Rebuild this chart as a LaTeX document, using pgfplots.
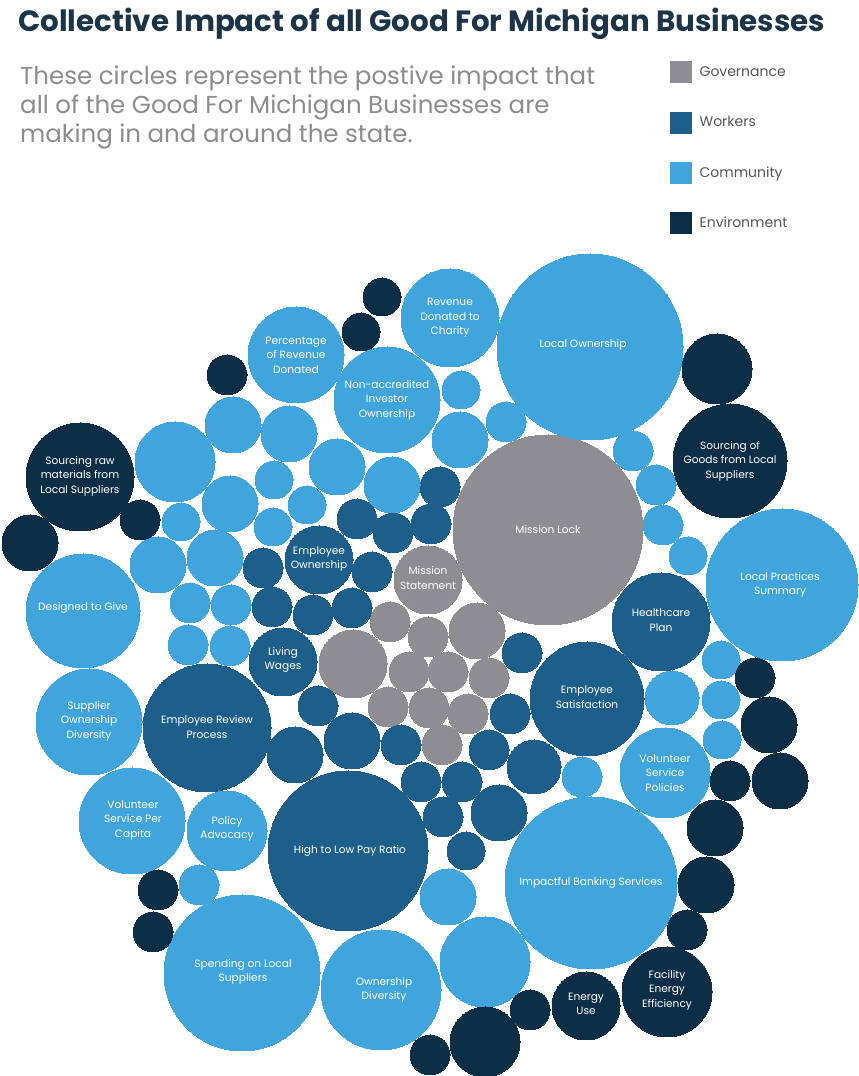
\documentclass[border=0pt]{standalone}
\usepackage{pgfplots}
\pgfplotsset{compat=1.18}
\usepackage{pgfplotstable}
\usepackage{fontspec}
\setmainfont{Poppins}

\definecolor{govc}{RGB}{142,142,146}
\definecolor{workc}{RGB}{29,94,138}
\definecolor{commc}{RGB}{64,165,221}
\definecolor{envc}{RGB}{12,46,70}
\definecolor{titlec}{RGB}{28,52,72}
\definecolor{subc}{RGB}{140,140,140}
\definecolor{legc}{RGB}{85,85,85}

% bubble centres and radii, in pixels of the 859x1076 picture (y from top)
\pgfplotstableread{
x y r
548 530 95
428 580 34
353 664 34
477 631 28
390 622 20
428 637 20
409 672 20
448 672 20
489 678 20
388 707 20
429 708 20
468 714 20
442 745 20
}\govtab

\pgfplotstableread{
x y r
348 851 80
207 728 64
661 622 49
587 699 57
319 560 34
283 662 34
440 487 20
357 519 20
393 533 20
431 524 20
263 568 20
372 572 20
272 607 20
313 615 20
352 608 20
318 706 20
295 755 28
352 741 28
401 745 20
421 782 20
462 782 20
489 750 20
510 714 20
522 653 20
534 767 27
499 813 28
443 817 20
466 851 19
}\worktab

\pgfplotstableread{
x y r
590 347 93
782 585 76
591 883 86
242 973 78
381 990 60
83 611 57
89 722 53
132 821 53
227 831 40
296 355 48
387 400 53
450 318 49
665 773 45
175 462 40
233 425 28
289 434 28
337 467 28
392 485 28
230 504 28
274 480 19
307 505 19
181 522 19
273 527 19
158 565 28
215 558 28
190 603 20
231 605 20
188 645 20
230 646 20
461 390 19
506 422 20
460 440 28
633 451 20
656 485 20
663 525 20
688 556 19
721 660 19
672 698 27
721 700 19
722 740 19
582 777 20
448 897 28
485 962 45
199 885 20
}\commtab

\pgfplotstableread{
x y r
80 477 54
730 461 57
717 369 35
667 992 45
586 1006 34
382 297 19
361 332 19
227 375 20
140 520 20
30 543 28
755 678 20
769 725 28
780 781 28
730 781 20
715 828 28
706 885 28
687 930 20
530 1010 20
485 1042 35
430 1055 20
158 890 20
153 932 20
}\envtab

\pgfplotsset{
  bubble/.style={scatter, only marks, mark=*, color=#1,
    mark options={draw=#1, fill=#1, line width=0pt},
    scatter/use mapped color={draw=#1, fill=#1},
    visualization depends on={\thisrow{r} \as \rad},
    scatter/@pre marker code/.append style={/tikz/mark size=\rad},
    legend image code/.code={\fill[#1] (0pt,-10.5pt) rectangle (21pt,10.5pt); \path (27pt,0pt);}},
}

\begin{document}
\begin{tikzpicture}[lbl/.style={text=white, align=center, inner sep=0pt,
    font=\fontsize{10.6}{14.5}\selectfont},
  sub/.style={anchor=base west, inner sep=0pt, text=subc,
    font=\fontsize{24.5}{29}\selectfont}]
\fill[white] (0,0) rectangle (859pt,1076pt);
\begin{axis}[
  set layers=standard,
  x=1pt, y=1pt, y dir=reverse,
  xmin=0, xmax=859, ymin=0, ymax=1076,
  hide axis, clip=false,
  legend style={at={(axis cs:670,61)}, anchor=north west, draw=none, fill=none,
    font=\fontsize{14}{16}\selectfont, text=legc, row sep=29pt, inner sep=0pt},
  legend cell align=left,
]
\addplot[bubble=govc] table[x=x, y=y] {\govtab};
\addlegendentry{Governance}
\addplot[bubble=workc] table[x=x, y=y] {\worktab};
\addlegendentry{Workers}
\addplot[bubble=commc] table[x=x, y=y] {\commtab};
\addlegendentry{Community}
\addplot[bubble=envc] table[x=x, y=y] {\envtab};
\addlegendentry{Environment}

\begin{pgfonlayer}{axis foreground}
\node[anchor=base west, inner sep=0pt, text=titlec,
  font=\bfseries\fontsize{29.3}{33}\selectfont] at (axis cs:18,32)
  {Collective Impact of all Good For Michigan Businesses};
\node[sub] at (axis cs:20,85) {These circles represent the postive impact that};
\node[sub] at (axis cs:20,114) {all of the Good For Michigan Businesses are};
\node[sub] at (axis cs:20,143) {making in and around the state.};

\node[lbl] at (axis cs:583,345) {Local Ownership};
\node[lbl] at (axis cs:548,530) {Mission Lock};
\node[lbl] at (axis cs:780,585) {Local Practices\\Summary};
\node[lbl] at (axis cs:591,883) {Impactful Banking Services};
\node[lbl] at (axis cs:350,851) {High to Low Pay Ratio};
\node[lbl] at (axis cs:243,972) {Spending on Local\\Suppliers};
\node[lbl] at (axis cs:384,990) {Ownership\\Diversity};
\node[lbl] at (axis cs:207,727) {Employee Review\\Process};
\node[lbl] at (axis cs:83,608) {Designed to Give};
\node[lbl] at (axis cs:89,721) {Supplier\\Ownership\\Diversity};
\node[lbl] at (axis cs:133,820) {Volunteer\\Service Per\\Capita};
\node[lbl] at (axis cs:227,829) {Policy\\Advocacy};
\node[lbl] at (axis cs:80,476) {Sourcing raw\\materials from\\Local Suppliers};
\node[lbl] at (axis cs:296,355) {Percentage\\of Revenue\\Donated};
\node[lbl] at (axis cs:387,400) {Non-accredited\\Investor\\Ownership};
\node[lbl] at (axis cs:450,318) {Revenue\\Donated to\\Charity};
\node[lbl] at (axis cs:730,461) {Sourcing of\\Goods from Local\\Suppliers};
\node[lbl] at (axis cs:661,620) {Healthcare\\Plan};
\node[lbl] at (axis cs:587,697) {Employee\\Satisfaction};
\node[lbl] at (axis cs:665,773) {Volunteer\\Service\\Policies};
\node[lbl] at (axis cs:667,990) {Facility\\Energy\\Efficiency};
\node[lbl] at (axis cs:586,1004) {Energy\\Use};
\node[lbl] at (axis cs:319,559) {Employee\\Ownership};
\node[lbl] at (axis cs:428,578) {Mission\\Statement};
\node[lbl] at (axis cs:283,660) {Living\\Wages};
\end{pgfonlayer}
\end{axis}
\pgfresetboundingbox
\path (0,0) rectangle (859pt,1076pt);
\end{tikzpicture}
\end{document}
